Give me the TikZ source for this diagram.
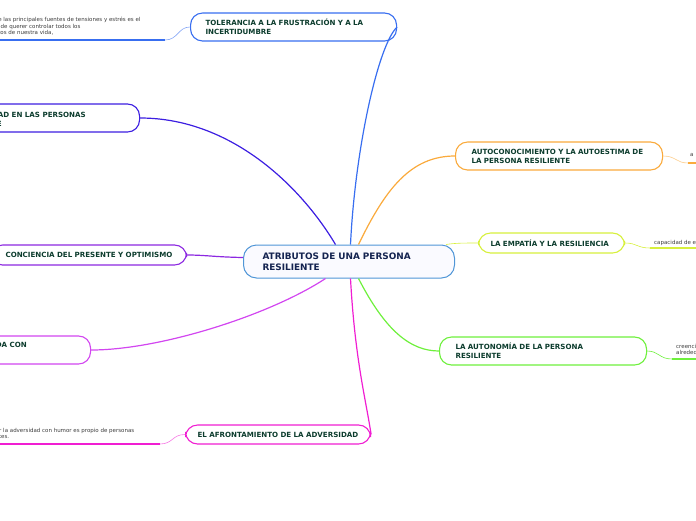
\documentclass[tikz,border=0pt]{standalone}
\usepackage{fontspec}
\setmainfont{DejaVu Sans}
\usetikzlibrary{calc}
\definecolor{cTol}{RGB}{56,110,240}
\definecolor{cSeg}{RGB}{60,30,225}
\definecolor{cCon}{RGB}{140,40,225}
\definecolor{cDa}{RGB}{210,70,240}
\definecolor{cAfr}{RGB}{240,30,210}
\definecolor{cAut}{RGB}{250,170,60}
\definecolor{cEmp}{RGB}{215,240,60}
\definecolor{cAtn}{RGB}{110,240,60}
\definecolor{cMain}{RGB}{80,150,215}
\definecolor{tGreen}{RGB}{12,60,45}
\definecolor{tNavy}{RGB}{20,35,80}
\definecolor{tLeaf}{RGB}{60,60,60}
\begin{document}
\begin{tikzpicture}[x=1pt,y=-1pt,
  branch/.style={draw, line width=1.1pt, rounded corners=12pt, fill=white,
    font=\fontsize{7.1}{9}\selectfont\bfseries, text=tGreen, align=left,
    inner xsep=15pt, inner ysep=0pt, anchor=west},
  btext/.style={font=\fontsize{7.1}{9}\selectfont\bfseries, text=tGreen, align=left, inner sep=0pt},
  leaf/.style={font=\fontsize{5.5}{6.5}\selectfont, text=tLeaf, align=left, inner sep=0pt, anchor=north west},
  conn/.style={line width=1.2pt},
  uline/.style={line width=2pt}]
\useasboundingbox (0,0) rectangle (696,520);
\clip (0,0) rectangle (696,520);

% central node
\node[draw=cMain, line width=1pt, rounded corners=13pt, fill=blue!2,
  font=\fontsize{8.9}{11}\selectfont\bfseries, text=tNavy, align=left,
  text width=173pt, inner xsep=19pt, inner ysep=0pt, minimum height=33pt, anchor=west]
  (c) at (243,261.5) {ATRIBUTOS DE UNA PERSONA\\RESILIENTE};

% branch nodes
\node[branch, draw=cTol, text width=176pt, minimum height=28pt] (tol) at (190,27)
  {TOLERANCIA A LA FRUSTRACIÓN Y A LA\\INCERTIDUMBRE};
\node[branch, draw=cSeg, text width=175pt, minimum height=28pt] (seg) at (-66,118) {};
\node[btext, anchor=base east] (segt1) at (86,117.5) {AD EN LAS PERSONAS};
\node[btext, anchor=base east] (segt2) at (2,126.5) {RESILIENTE};
\node[branch, draw=cCon, text width=166pt, minimum height=20pt] (con) at (-10,255)
  {\mbox{CONCIENCIA DEL PRESENTE Y OPTIMISMO}};
\node[branch, draw=cDa, text width=176pt, minimum height=28pt] (da) at (-116,350) {};
\node[btext, anchor=base east] (dat) at (27,347.5) {DA CON};
\node[branch, draw=cAfr, text width=161pt, minimum height=19pt, inner xsep=12pt] (afr) at (185,434.5)
  {EL AFRONTAMIENTO DE LA ADVERSIDAD};
\node[branch, draw=cAut, text width=175pt, minimum height=28pt, inner xsep=16pt] (aut) at (455,156)
  {AUTOCONOCIMIENTO Y LA AUTOESTIMA DE\\LA PERSONA RESILIENTE};
\node[branch, draw=cEmp, text width=122pt, minimum height=20pt, inner xsep=12pt] (emp) at (478,243)
  {LA EMPATÍA Y LA RESILIENCIA};
\node[branch, draw=cAtn, text width=175pt, minimum height=28pt, inner xsep=16pt] (atn) at (439,351)
  {LA AUTONOMÍA DE LA PERSONA\\RESILIENTE};

% connectors from the centre
\draw[conn, cTol] ($(c.north)+(1.5,0)$) .. controls (355,150) and (378,45) .. (tol.east);
\draw[conn, cSeg] ($(c.north)+(-13.5,0)$) .. controls (300,185) and (230,118) .. (seg.east);
\draw[conn, cCon] ($(c.west)+(0,-4)$) .. controls (215,257) and (205,255) .. (con.east);
\draw[conn, cDa] ($(c.south)+(-23.5,0)$) .. controls (270,315) and (160,350) .. (da.east);
\draw[conn, cAfr] ($(c.south)+(1.5,0)$) .. controls (355,360) and (366,400) .. (afr.east);
\draw[conn, cAut] ($(c.north)+(9.5,0)$) .. controls (385,190) and (410,156) .. (aut.west);
\draw[conn, cEmp, line width=0.6pt] ($(c.north east)+(-9,0)$) .. controls (455,243) and (465,243) .. (emp.west);
\draw[conn, cAtn] ($(c.south)+(9.5,0)$) .. controls (385,330) and (410,351) .. (atn.west);

% leaves
\coordinate (l1) at (165,40);
\draw[line width=0.6pt, cTol!60] (tol.west) .. controls (178,27) and (178,40) .. (l1);
\draw[uline, cTol] (l1) -- (-5,40);
\node[leaf] (l1t) at (-18,17) {Una de las principales fuentes de tensiones y estrés es el\\hecho de querer controlar todos los\\aspectos de nuestra vida,};

\coordinate (l2) at (160,444);
\draw[line width=0.6pt, cAfr!60] (afr.west) .. controls (172,434.5) and (173,444) .. (l2);
\draw[uline, cAfr] (l2) -- (-5,444);
\node[leaf] (l2t) at (-21,428) {Afrontar la adversidad con humor es propio de personas\\resilientes.};

\coordinate (r1) at (688,163);
\draw[line width=0.6pt, cAut!60] (aut.east) .. controls (676,156) and (676,163) .. (r1);
\draw[uline, cAut] (r1) -- (700,163);
\node[leaf] (r1t) at (690,153) {a};

\coordinate (r2) at (650,248);
\draw[line width=0.6pt, cEmp] (emp.east) .. controls (637,243) and (637,248) .. (r2);
\draw[uline, cEmp] (r2) -- (700,248);
\node[leaf] (r2t) at (654,240) {capacidad de entender};

\coordinate (r3) at (672,359);
\draw[line width=0.6pt, cAtn] (atn.east) .. controls (659,351) and (659,359) .. (r3);
\draw[uline, cAtn] (r3) -- (700,359);
\node[leaf] (r3t) at (676,344) {creencias\\alrededor};
\end{tikzpicture}
\end{document}
